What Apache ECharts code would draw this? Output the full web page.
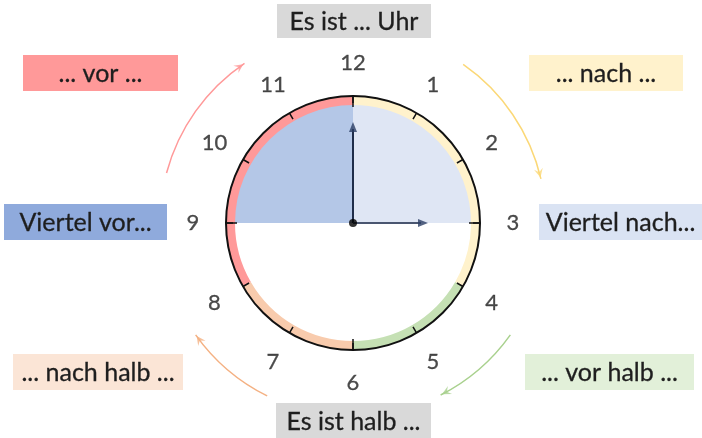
<!DOCTYPE html>
<html>
<head>
<meta charset="utf-8">
<script src="https://cdn.jsdelivr.net/npm/echarts@6/dist/echarts.min.js"></script>
<style>
  html, body { margin: 0; padding: 0; background: #fff; }
  #main { width: 702px; height: 438px; }
</style>
</head>
<body>
<div id="main"></div>
<script>
// Zifferblatt: Zahlen, Abschnitte (in Minuten) und Zeiger
var hourLabels = ['12', '1', '2', '3', '4', '5', '6', '7', '8', '9', '10', '11'];
var ringNames = ['... nach ...', '... vor halb ...', '... nach halb ...', '... vor ...'];
var ringMinutes = [20, 10, 10, 20];
var quarterNames = ['Viertel nach...', '', 'Viertel vor...'];
var quarterMinutes = [15, 30, 15];
var minuteHand = 0;  // Minute
var hourHand = 3;    // Stunde
var topText = 'Es ist ... Uhr';
var bottomText = 'Es ist halb ...';

// Layout / Farben
var cx = 353, cy = 223, R = 127;
var FONT = 'Lato, "Liberation Sans", sans-serif';
var ringColors = ['#fff2cc', '#c5e0b4', '#f8cbad', '#ff9999'];
var boxColors = ['#fff2cc', '#e2f0d9', '#fbe5d6', '#ff9999'];
var arcColors = ['#fbd877', '#a9d18e', '#f4b183', '#ff9999'];
var arcSpans = [[5.8, 12.8], [20.9, 25.5], [34.4, 39.1], [47.5, 54.3]]; // Pfeilbögen, in Minuten
var quarterColors = ['#dfe6f4', 'rgba(0,0,0,0)', '#b4c7e7'];

var myChart = echarts.init(document.getElementById('main'));

// Bögen mit Lücken dazwischen
var arcData = [];
var pos = 0;
arcSpans.forEach(function (s, i) {
  arcData.push({ value: s[0] - pos, itemStyle: { color: 'rgba(0,0,0,0)' } });
  arcData.push({ value: s[1] - s[0], itemStyle: { color: arcColors[i] } });
  pos = s[1];
});
arcData.push({ value: 60 - pos, itemStyle: { color: 'rgba(0,0,0,0)' } });

var boxes = [
  { text: topText, color: '#d9d9d9', x: 277, y: 4, w: 154, h: 34 },
  { text: bottomText, color: '#d9d9d9', x: 276, y: 403, w: 155, h: 35 },
  { text: ringNames[0], color: boxColors[0], x: 529, y: 55, w: 154, h: 36 },
  { text: ringNames[1], color: boxColors[1], x: 525, y: 354, w: 169, h: 36 },
  { text: ringNames[2], color: boxColors[2], x: 13, y: 354, w: 170, h: 36 },
  { text: ringNames[3], color: boxColors[3], x: 23, y: 55, w: 155, h: 36 },
  { text: quarterNames[0], color: '#dae3f3', x: 539, y: 204, w: 163, h: 36 },
  { text: quarterNames[2], color: '#8faadc', x: 4, y: 204, w: 163, h: 36 }
];

var noHover = { disabled: true };

var option = {
  animation: false,
  polar: [
    { center: [cx, cy], radius: R },
    { center: [cx, cy], radius: R }
  ],
  angleAxis: [
    {
      polarIndex: 0, type: 'value', min: 0, max: 60, interval: 5,
      startAngle: 90, clockwise: true, z: 10,
      axisLine: { lineStyle: { color: '#111', width: 2 } },
      axisTick: { inside: true, length: 7, lineStyle: { color: '#111', width: 1.5 } },
      axisLabel: { show: false },
      splitLine: { show: false }
    },
    {
      polarIndex: 1, type: 'value', min: 0, max: 60, interval: 15,
      startAngle: 90, clockwise: true, z: 10,
      axisLine: { show: false },
      axisTick: { inside: true, length: 11, lineStyle: { color: '#111', width: 1.5 } },
      axisLabel: { show: false },
      splitLine: { show: false }
    }
  ],
  radiusAxis: [
    { polarIndex: 0, min: 0, max: R, show: false },
    { polarIndex: 1, min: 0, max: R, show: false }
  ],
  graphic: boxes.map(function (b) {
    return {
      type: 'group', x: b.x, y: b.y, silent: true,
      children: [
        { type: 'rect', shape: { x: 0, y: 0, width: b.w, height: b.h }, style: { fill: b.color } },
        {
          type: 'text', x: b.w / 2, y: b.h / 2 + 1,
          style: {
            text: b.text, fill: '#1e1e1e', fontSize: 25, fontFamily: FONT,
            align: 'center', verticalAlign: 'middle', stroke: '#1e1e1e', lineWidth: 0.3
          }
        }
      ]
    };
  }),
  series: [
    {
      // Viertel-Flächen
      type: 'pie', center: [cx, cy], radius: [0, 119], startAngle: 90, z: 1,
      silent: true, label: { show: false }, labelLine: { show: false }, emphasis: noHover,
      data: quarterMinutes.map(function (v, i) {
        return { name: quarterNames[i], value: v, itemStyle: { color: quarterColors[i] } };
      })
    },
    {
      // farbiger Ring
      type: 'pie', center: [cx, cy], radius: [118, 127], startAngle: 90, z: 2,
      silent: true, label: { show: false }, labelLine: { show: false }, emphasis: noHover,
      data: ringMinutes.map(function (v, i) {
        return { name: ringNames[i], value: v, itemStyle: { color: ringColors[i] } };
      })
    },
    {
      // Pfeilbögen
      type: 'pie', center: [cx, cy], radius: [192.3, 193.8], startAngle: 90, z: 2,
      silent: true, label: { show: false }, labelLine: { show: false }, emphasis: noHover,
      data: arcData
    },
    {
      type: 'scatter', coordinateSystem: 'polar', polarIndex: 0, clip: false, silent: true, z: 6,
      symbol: 'path://M0,10 L5,0 L10,10 L5,6 Z', symbolSize: [9, 9],
      data: arcSpans.map(function (s, i) {
        return { value: [193, s[1] - 0.3], symbolRotate: -(s[1] * 6 + 90), itemStyle: { color: arcColors[i] } };
      })
    },
    {
      // Minutenzeiger
      type: 'line', coordinateSystem: 'polar', polarIndex: 0, symbol: 'none', silent: true, z: 6,
      lineStyle: { color: '#1f2d4a', width: 2 },
      data: [[0, minuteHand], [94, minuteHand]]
    },
    {
      // Stundenzeiger
      type: 'line', coordinateSystem: 'polar', polarIndex: 0, symbol: 'none', silent: true, z: 6,
      lineStyle: { color: '#4a5670', width: 2 },
      data: [[0, hourHand * 5], [68, hourHand * 5]]
    },
    {
      type: 'scatter', coordinateSystem: 'polar', polarIndex: 0, clip: false, silent: true, z: 7,
      symbol: 'triangle', symbolSize: [8, 10], itemStyle: { color: '#2a3d64' },
      data: [
        { value: [96, minuteHand], symbolRotate: -minuteHand * 6 },
        { value: [70, hourHand * 5], symbolRotate: -hourHand * 30 }
      ]
    },
    {
      type: 'scatter', coordinateSystem: 'polar', polarIndex: 0, clip: false, silent: true, z: 8,
      symbolSize: 8, itemStyle: { color: '#000' },
      data: [[0, 0]]
    },
    {
      // Zahlen
      type: 'scatter', coordinateSystem: 'polar', polarIndex: 0, clip: false, silent: true, z: 8,
      symbolSize: 1, itemStyle: { color: 'rgba(0,0,0,0)' },
      label: {
        show: true, position: 'inside', formatter: '{b}', fontSize: 22, fontFamily: FONT,
        color: '#1e1e1e', textBorderColor: '#1e1e1e', textBorderWidth: 0.3
      },
      data: hourLabels.map(function (h, i) {
        return { name: h, value: [160, i * 5] };
      })
    }
  ]
};

myChart.setOption(option);
</script>
</body>
</html>
